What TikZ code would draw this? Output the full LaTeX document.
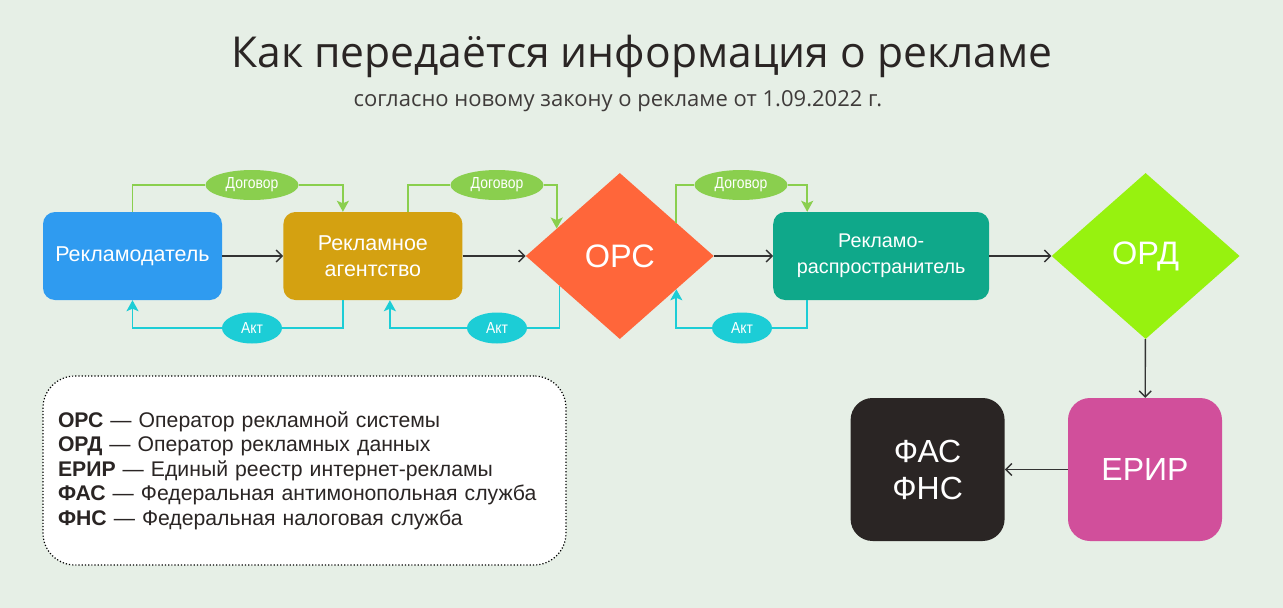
\documentclass[tikz,border=0pt]{standalone}
\usepackage{fontspec}
\setmainfont{Liberation Sans}
\newfontfamily\titlefont{Open Sans}
\usetikzlibrary{shapes.geometric,arrows.meta,calc,positioning}
\definecolor{bgcol}{HTML}{E6EFE6}
\definecolor{advblue}{HTML}{2F9BF0}
\definecolor{agencyyellow}{HTML}{D4A111}
\definecolor{orsred}{HTML}{FF663A}
\definecolor{distgreen}{HTML}{0FA88A}
\definecolor{ordlime}{HTML}{97F20F}
\definecolor{erirpink}{HTML}{D14F9B}
\definecolor{fasblack}{HTML}{2A2524}
\definecolor{doggreen}{HTML}{8ACF4E}
\definecolor{aktcyan}{HTML}{1CCDD6}
\definecolor{arrowgray}{HTML}{333333}
\newcommand{\narrowtext}[1]{\scalebox{0.87}[1]{#1}}
\begin{document}
\begin{tikzpicture}[x=1pt, y=-1pt, >={Straight Barb[length=6pt,width=12pt]},
    box/.style={rectangle, rounded corners=12pt, minimum width=179pt, minimum height=88pt,
        align=center, text=white, font=\fontsize{21.5}{26}\selectfont},
    rhomb/.style={diamond, minimum width=188pt, minimum height=166pt, inner sep=0pt,
        text=white, font=\fontsize{32.5}{36}\selectfont},
    bigbox/.style={rectangle, rounded corners=22pt, minimum width=154pt, minimum height=143pt,
        align=center, text=white, font=\fontsize{32}{37}\selectfont},
    flow/.style={->, draw=arrowgray, line width=1.4pt},
    dogline/.style={draw=doggreen, line width=1.8pt},
    aktline/.style={draw=aktcyan, line width=1.8pt},
    dog/.style={ellipse, fill=doggreen, text=white, minimum width=93pt, minimum height=30pt,
        inner sep=0pt, font=\fontsize{16}{17}\selectfont},
    akt/.style={ellipse, fill=aktcyan, text=white, minimum width=60pt, minimum height=31pt,
        inner sep=0pt, font=\fontsize{16}{17}\selectfont},
    tip/.style={-{Stealth[length=11pt,width=12pt,inset=2.5pt]}}
]
    % Background
    \fill[bgcol] (0,0) rectangle (1283,608);
    \useasboundingbox (0,0) rectangle (1283,608);

    % Title
    \node[text=fasblack, font=\titlefont\fontsize{42.6}{46}\selectfont] (title) at (642,56) {Как передаётся информация о рекламе};
    \node[text=fasblack!90, font=\titlefont\fontsize{22}{24}\selectfont] (subtitle) at (618,101) {согласно новому закону о рекламе от 1.09.2022 г.};

    % Main chain
    \node[box, fill=advblue] (adv) at (132.5,256) {Рекламодатель};
    \node[box, fill=agencyyellow, right=61pt of adv] (agency) {Рекламное\\агентство};
    \node[rhomb, fill=orsred, right=63pt of agency] (ors) {ОРС};
    \node[box, fill=distgreen, minimum width=216pt, font=\fontsize{19.8}{26}\selectfont, right=59pt of ors] (dist) {Рекламо-\\распространитель};
    \node[rhomb, fill=ordlime, right=62pt of dist] (ord) {ОРД};
    \node[bigbox, fill=erirpink] (erir) at (1145,469.5) {ЕРИР};
    \node[bigbox, fill=fasblack, left=63pt of erir] (fas) {ФАС\\ФНС};

    % Labels
    \node[dog] (dog1) at (252,185) {\narrowtext{Договор}};
    \node[dog] (dog2) at (497,185) {\narrowtext{Договор}};
    \node[dog] (dog3) at (741,185) {\narrowtext{Договор}};
    \node[akt] (akt1) at (252,328) {\narrowtext{Акт}};
    \node[akt] (akt2) at (497,328) {\narrowtext{Акт}};
    \node[akt] (akt3) at (742,328) {\narrowtext{Акт}};

    % Legend
    \node[draw, dotted, line width=1.2pt, fill=white, rounded corners=32pt, minimum height=189pt,
        text width=493pt, inner xsep=15pt, align=left, text=fasblack,
        font=\fontsize{21.2}{24.5}\selectfont] (legend) at (304.5,470.5) {
        \textbf{ОРС} — Оператор рекламной системы\\
        \textbf{ОРД} — Оператор рекламных данных\\
        \textbf{ЕРИР} — Единый реестр интернет-рекламы\\
        \textbf{ФАС} — Федеральная антимонопольная служба\\
        \textbf{ФНС} — Федеральная налоговая служба};

    % Flow
    \draw[flow] (adv) -- (agency);
    \draw[flow] (agency) -- (ors);
    \draw[flow] (ors) -- (dist);
    \draw[flow] (dist) -- (ord);
    \draw[flow] (ord) -- (erir);
    \draw[flow] (erir) -- (fas);

    % Contracts
    \draw[dogline] (adv.north) |- (dog1.west);
    \draw[dogline, tip] (dog1.east) -| ([xshift=-30pt]agency.north);
    \draw[dogline] ([xshift=35pt]agency.north) |- (dog2.west);
    \draw[dogline, tip] (dog2.east) -| ($(ors.west)!0.33!(ors.north)$);
    \draw[dogline] ($(ors.east)!0.4!(ors.north)$) |- (dog3.west);
    \draw[dogline, tip] (dog3.east) -| ([xshift=-74pt]dist.north);

    % Acts
    \draw[aktline] ([xshift=-30pt]agency.south) |- (akt1.east);
    \draw[aktline, tip] (akt1.west) -| (adv.south);
    \draw[aktline] ($(ors.west)!0.36!(ors.south)$) |- (akt2.east);
    \draw[aktline, tip] (akt2.west) -| ([xshift=17pt]agency.south);
    \draw[aktline] ([xshift=-74pt]dist.south) |- (akt3.east);
    \draw[aktline, tip] (akt3.west) -| ($(ors.east)!0.4!(ors.south)$);
\end{tikzpicture}
\end{document}
